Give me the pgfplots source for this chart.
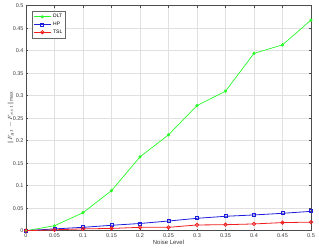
\documentclass[border=0pt]{standalone}
\usepackage{fontspec}
\setmainfont{Liberation Sans}
\usepackage{pgfplots}
\pgfplotsset{compat=1.18}
\definecolor{cgreen}{RGB}{40,250,40}
\definecolor{cblue}{RGB}{30,30,220}
\definecolor{cred}{RGB}{240,30,30}
\definecolor{tickgray}{RGB}{60,60,60}
\begin{document}
\begin{tikzpicture}
\begin{axis}[
  scale only axis,
  width=285bp, height=225bp,
  xmin=0, xmax=0.5, ymin=0, ymax=0.5,
  xtick={0,0.05,...,0.5}, ytick={0,0.05,...,0.5},
  xticklabels={0,0.05,0.1,0.15,0.2,0.25,0.3,0.35,0.4,0.45,0.5},
  yticklabels={0,0.05,0.1,0.15,0.2,0.25,0.3,0.35,0.4,0.45,0.5},
  grid=major,
  major grid style={draw=black!12, line width=0.4bp},
  tick align=inside,
  major tick length=2bp,
  tick style={draw=black!70, line width=0.4bp},
  axis line style={draw=black!70, line width=0.5bp},
  tick label style={font=\fontsize{5.5}{6}\selectfont, text=tickgray},
  xticklabel style={yshift=1bp},
  yticklabel style={xshift=1bp},
  xlabel={Noise Level},
  xlabel style={font=\fontsize{6}{7}\selectfont, text=tickgray, yshift=4bp},
  ylabel={$\|F_{gt}-F_{est}\|_{\max}$},
  ylabel style={font=\fontsize{6}{7}\selectfont, text=tickgray, yshift=-8bp},
  legend style={at={(rel axis cs:0,1)}, anchor=north west, xshift=6bp, yshift=-5.3bp,
    font=\fontsize{5}{6}\selectfont, draw=black!60, line width=0.4bp,
    inner sep=1.2bp, row sep=-1.2bp, legend cell align=left},
  legend image code/.code={
    \draw[mark repeat=2,mark phase=2] plot coordinates {(0cm,0cm) (0.3cm,0cm) (0.6cm,0cm)};},
]
\addplot[cgreen, line width=0.7bp, mark=*, mark size=1.2bp, mark options={fill=cgreen}] coordinates {
(0,0) (0.05,0.011) (0.1,0.040) (0.15,0.089) (0.2,0.164) (0.25,0.213)
(0.3,0.278) (0.35,0.310) (0.4,0.394) (0.45,0.413) (0.5,0.468)};
\addlegendentry{DLT}
\addplot[cblue, line width=0.8bp, mark=square, mark size=1.5bp] coordinates {
(0,0) (0.05,0.004) (0.1,0.0075) (0.15,0.012) (0.2,0.016) (0.25,0.0215)
(0.3,0.0275) (0.35,0.032) (0.4,0.035) (0.45,0.0386) (0.5,0.043)};
\addlegendentry{HP}
\addplot[cred, line width=0.8bp, mark=o, mark size=1.7bp] coordinates {
(0,0) (0.05,0.002) (0.1,0.004) (0.15,0.005) (0.2,0.0075) (0.25,0.0075)
(0.3,0.0127) (0.35,0.0133) (0.4,0.015) (0.45,0.018) (0.5,0.019)};
\addlegendentry{TSL}
\end{axis}
\pgfresetboundingbox
\path[use as bounding box] ([shift={(-26bp,-17.3bp)}]current axis.south west) rectangle ([shift={(8bp,5.7bp)}]current axis.north east);
\end{tikzpicture}
\end{document}
